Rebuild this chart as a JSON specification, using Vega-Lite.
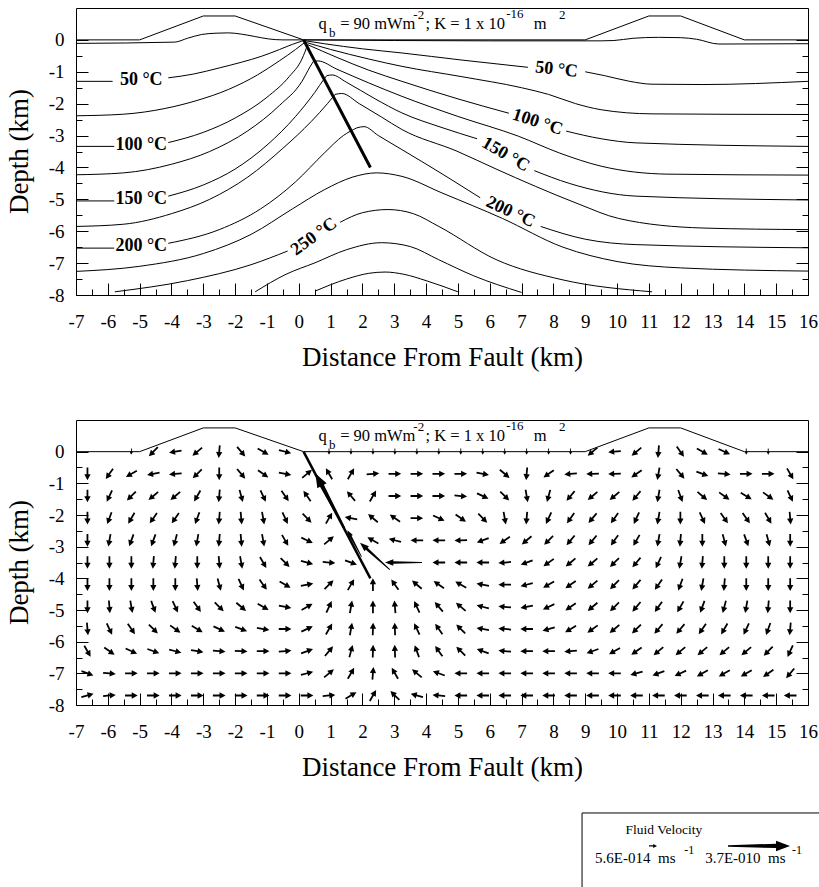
{
  "$schema": "https://vega.github.io/schema/vega-lite/v6.json",
  "background": "white",
  "padding": {"left": 4, "top": 7, "right": 0, "bottom": 0},
  "spacing": 48,
  "config": {
    "font": "Liberation Serif",
    "view": {"stroke": "black", "strokeWidth": 1},
    "style": {
      "guide-label": {"font": "Liberation Serif", "fill": "black"},
      "guide-title": {"font": "Liberation Serif", "fill": "black"}
    },
    "axis": {
      "domain": false,
      "grid": false,
      "tickColor": "black",
      "tickWidth": 1,
      "labelColor": "black",
      "labelFont": "Liberation Serif",
      "labelFontSize": 19,
      "labelFlush": false,
      "labelOverlap": false,
      "titleColor": "black",
      "titleFont": "Liberation Serif",
      "titleFontSize": 27,
      "titleFontWeight": "normal"
    }
  },
  "datasets": {
    "topo": [
      {"x": -7, "y": 0}, {"x": -5, "y": 0}, {"x": -3, "y": 0.75}, {"x": -2, "y": 0.75}, {"x": 0.15, "y": 0},
      {"x": 9, "y": 0}, {"x": 11, "y": 0.75}, {"x": 12, "y": 0.75}, {"x": 14, "y": 0}, {"x": 16, "y": 0}
    ],
    "fault": [{"x": 0.15, "y": 0}, {"x": 2.25, "y": -4}],
    "header": [
      {"text": "q", "x": 0.62, "y": 0.33, "role": "base"},
      {"text": "b", "x": 0.95, "y": 0.1, "role": "script"},
      {"text": "= 90 mWm", "x": 1.3, "y": 0.33, "role": "base"},
      {"text": "-2", "x": 3.6, "y": 0.66, "role": "script"},
      {"text": "; K = 1 x 10", "x": 3.98, "y": 0.33, "role": "base"},
      {"text": "-16", "x": 6.52, "y": 0.68, "role": "script"},
      {"text": "m", "x": 7.38, "y": 0.33, "role": "base"},
      {"text": "2", "x": 8.18, "y": 0.66, "role": "script"}
    ],
    "isoLabels": [
      {"text": "50 °C", "x": -4.95, "y": -1.26, "angle": 0},
      {"text": "100 °C", "x": -4.95, "y": -3.29, "angle": 0},
      {"text": "150 °C", "x": -4.95, "y": -4.98, "angle": 0},
      {"text": "200 °C", "x": -4.95, "y": -6.46, "angle": 0},
      {"text": "250 °C", "x": 0.48, "y": -6.17, "angle": -36},
      {"text": "50 °C", "x": 8.1, "y": -0.93, "angle": 6},
      {"text": "100 °C", "x": 7.5, "y": -2.58, "angle": 18},
      {"text": "150 °C", "x": 6.5, "y": -3.6, "angle": 30},
      {"text": "200 °C", "x": 6.65, "y": -5.4, "angle": 25}
    ],
    "isotherms": [
      {"seg": "25a", "n": 0, "x": -7, "y": -0.11}, {"seg": "25a", "n": 1, "x": -3.9, "y": -0.07}, {"seg": "25a", "n": 2, "x": -3.5, "y": 0.05}, {"seg": "25a", "n": 3, "x": -3.05, "y": 0.17}, {"seg": "25a", "n": 4, "x": -2.6, "y": 0.21}, {"seg": "25a", "n": 5, "x": -2.2, "y": 0.22}, {"seg": "25a", "n": 6, "x": -1.8, "y": 0.18}, {"seg": "25a", "n": 7, "x": -1.4, "y": 0.11}, {"seg": "25a", "n": 8, "x": -0.95, "y": 0.03}, {"seg": "25a", "n": 9, "x": -0.5, "y": 0.0}, {"seg": "25a", "n": 10, "x": 0.15, "y": 0},
      {"seg": "25b", "n": 0, "x": 0.15, "y": 0}, {"seg": "25b", "n": 1, "x": 3, "y": -0.02}, {"seg": "25b", "n": 2, "x": 6, "y": -0.03}, {"seg": "25b", "n": 3, "x": 9.5, "y": -0.03}, {"seg": "25b", "n": 4, "x": 9.9, "y": -0.02}, {"seg": "25b", "n": 5, "x": 10.5, "y": 0.05}, {"seg": "25b", "n": 6, "x": 11.3, "y": 0.08}, {"seg": "25b", "n": 7, "x": 12, "y": 0.07}, {"seg": "25b", "n": 8, "x": 12.5, "y": 0.02}, {"seg": "25b", "n": 9, "x": 13.2, "y": -0.13}, {"seg": "25b", "n": 10, "x": 16, "y": -0.12},
      {"seg": "50a", "n": 0, "x": -7, "y": -1.3}, {"seg": "50a", "n": 1, "x": -5.85, "y": -1.3},
      {"seg": "50b", "n": 0, "x": -4.1, "y": -1.19}, {"seg": "50b", "n": 1, "x": -3.3, "y": -1.07}, {"seg": "50b", "n": 2, "x": -2.5, "y": -0.88}, {"seg": "50b", "n": 3, "x": -1.8, "y": -0.7}, {"seg": "50b", "n": 4, "x": -1.16, "y": -0.51}, {"seg": "50b", "n": 5, "x": -0.6, "y": -0.3}, {"seg": "50b", "n": 6, "x": -0.2, "y": -0.14}, {"seg": "50b", "n": 7, "x": 0.15, "y": -0.02},
      {"seg": "50c", "n": 0, "x": 0.15, "y": -0.02}, {"seg": "50c", "n": 1, "x": 0.8, "y": -0.12}, {"seg": "50c", "n": 2, "x": 2, "y": -0.28}, {"seg": "50c", "n": 3, "x": 3.24, "y": -0.41}, {"seg": "50c", "n": 4, "x": 5.1, "y": -0.63}, {"seg": "50c", "n": 5, "x": 7.2, "y": -0.86},
      {"seg": "50d", "n": 0, "x": 9, "y": -1.0}, {"seg": "50d", "n": 1, "x": 9.6, "y": -1.12}, {"seg": "50d", "n": 2, "x": 10.4, "y": -1.3}, {"seg": "50d", "n": 3, "x": 11.1, "y": -1.39}, {"seg": "50d", "n": 4, "x": 12.7, "y": -1.4}, {"seg": "50d", "n": 5, "x": 16, "y": -1.3},
      {"seg": "75a", "n": 0, "x": -7, "y": -2.38}, {"seg": "75a", "n": 1, "x": -5.5, "y": -2.33}, {"seg": "75a", "n": 2, "x": -4.2, "y": -2.15}, {"seg": "75a", "n": 3, "x": -3.2, "y": -1.9}, {"seg": "75a", "n": 4, "x": -2.2, "y": -1.55}, {"seg": "75a", "n": 5, "x": -1.3, "y": -1.1}, {"seg": "75a", "n": 6, "x": -0.6, "y": -0.65}, {"seg": "75a", "n": 7, "x": -0.1, "y": -0.3}, {"seg": "75a", "n": 8, "x": 0.2, "y": -0.07},
      {"seg": "75b", "n": 0, "x": 0.2, "y": -0.07}, {"seg": "75b", "n": 1, "x": 1, "y": -0.3}, {"seg": "75b", "n": 2, "x": 2.2, "y": -0.6}, {"seg": "75b", "n": 3, "x": 3.24, "y": -0.83}, {"seg": "75b", "n": 4, "x": 5.1, "y": -1.15}, {"seg": "75b", "n": 5, "x": 7, "y": -1.5}, {"seg": "75b", "n": 6, "x": 7.85, "y": -1.71}, {"seg": "75b", "n": 7, "x": 8.7, "y": -2.0}, {"seg": "75b", "n": 8, "x": 9.5, "y": -2.19}, {"seg": "75b", "n": 9, "x": 11.1, "y": -2.32}, {"seg": "75b", "n": 10, "x": 16, "y": -2.34},
      {"seg": "100a", "n": 0, "x": -7, "y": -3.34}, {"seg": "100a", "n": 1, "x": -5.8, "y": -3.34},
      {"seg": "100b", "n": 0, "x": -4.1, "y": -3.22}, {"seg": "100b", "n": 1, "x": -3, "y": -2.9}, {"seg": "100b", "n": 2, "x": -2, "y": -2.45}, {"seg": "100b", "n": 3, "x": -1, "y": -1.8}, {"seg": "100b", "n": 4, "x": -0.3, "y": -1.15}, {"seg": "100b", "n": 5, "x": 0.1, "y": -0.6}, {"seg": "100b", "n": 6, "x": 0.28, "y": -0.15},
      {"seg": "100c", "n": 0, "x": 0.28, "y": -0.15}, {"seg": "100c", "n": 1, "x": 1.2, "y": -0.55}, {"seg": "100c", "n": 2, "x": 2.2, "y": -0.95}, {"seg": "100c", "n": 3, "x": 3.24, "y": -1.3}, {"seg": "100c", "n": 4, "x": 5, "y": -1.85}, {"seg": "100c", "n": 5, "x": 6.6, "y": -2.3},
      {"seg": "100d", "n": 0, "x": 8.4, "y": -2.86}, {"seg": "100d", "n": 1, "x": 9.5, "y": -3.1}, {"seg": "100d", "n": 2, "x": 10.6, "y": -3.23}, {"seg": "100d", "n": 3, "x": 16, "y": -3.34},
      {"seg": "125a", "n": 0, "x": -7, "y": -4.23}, {"seg": "125a", "n": 1, "x": -5.5, "y": -4.17}, {"seg": "125a", "n": 2, "x": -4, "y": -3.9}, {"seg": "125a", "n": 3, "x": -2.8, "y": -3.5}, {"seg": "125a", "n": 4, "x": -1.6, "y": -2.85}, {"seg": "125a", "n": 5, "x": -0.6, "y": -2.05}, {"seg": "125a", "n": 6, "x": 0.1, "y": -1.3}, {"seg": "125a", "n": 7, "x": 0.35, "y": -0.85}, {"seg": "125a", "n": 8, "x": 0.46, "y": -0.67},
      {"seg": "125b", "n": 0, "x": 0.46, "y": -0.67}, {"seg": "125b", "n": 1, "x": 0.6, "y": -0.66}, {"seg": "125b", "n": 2, "x": 1.2, "y": -0.92}, {"seg": "125b", "n": 3, "x": 2.2, "y": -1.35}, {"seg": "125b", "n": 4, "x": 3.24, "y": -1.77}, {"seg": "125b", "n": 5, "x": 5, "y": -2.4}, {"seg": "125b", "n": 6, "x": 6.9, "y": -3.02}, {"seg": "125b", "n": 7, "x": 8.2, "y": -3.55}, {"seg": "125b", "n": 8, "x": 9.5, "y": -3.96}, {"seg": "125b", "n": 9, "x": 11.6, "y": -4.21}, {"seg": "125b", "n": 10, "x": 16, "y": -4.24},
      {"seg": "150a", "n": 0, "x": -7, "y": -5.05}, {"seg": "150a", "n": 1, "x": -5.8, "y": -5.05},
      {"seg": "150b", "n": 0, "x": -4.1, "y": -4.9}, {"seg": "150b", "n": 1, "x": -3, "y": -4.55}, {"seg": "150b", "n": 2, "x": -2, "y": -4.05}, {"seg": "150b", "n": 3, "x": -1, "y": -3.3}, {"seg": "150b", "n": 4, "x": -0.1, "y": -2.4}, {"seg": "150b", "n": 5, "x": 0.5, "y": -1.65}, {"seg": "150b", "n": 6, "x": 0.8, "y": -1.22}, {"seg": "150b", "n": 7, "x": 0.88, "y": -1.12},
      {"seg": "150c", "n": 0, "x": 0.88, "y": -1.12}, {"seg": "150c", "n": 1, "x": 1.05, "y": -1.1}, {"seg": "150c", "n": 2, "x": 1.5, "y": -1.33}, {"seg": "150c", "n": 3, "x": 2.4, "y": -1.85}, {"seg": "150c", "n": 4, "x": 3.24, "y": -2.29}, {"seg": "150c", "n": 5, "x": 4.5, "y": -2.75}, {"seg": "150c", "n": 6, "x": 5.6, "y": -3.1},
      {"seg": "150d", "n": 0, "x": 7.4, "y": -4.1}, {"seg": "150d", "n": 1, "x": 8.5, "y": -4.5}, {"seg": "150d", "n": 2, "x": 10.6, "y": -4.9}, {"seg": "150d", "n": 3, "x": 16, "y": -5.02},
      {"seg": "175a", "n": 0, "x": -7, "y": -5.85}, {"seg": "175a", "n": 1, "x": -5.5, "y": -5.78}, {"seg": "175a", "n": 2, "x": -4, "y": -5.45}, {"seg": "175a", "n": 3, "x": -2.8, "y": -5.0}, {"seg": "175a", "n": 4, "x": -1.6, "y": -4.3}, {"seg": "175a", "n": 5, "x": -0.5, "y": -3.4}, {"seg": "175a", "n": 6, "x": 0.4, "y": -2.55}, {"seg": "175a", "n": 7, "x": 0.9, "y": -2.0}, {"seg": "175a", "n": 8, "x": 1.14, "y": -1.71},
      {"seg": "175b", "n": 0, "x": 1.14, "y": -1.71}, {"seg": "175b", "n": 1, "x": 1.35, "y": -1.68}, {"seg": "175b", "n": 2, "x": 1.9, "y": -2.0}, {"seg": "175b", "n": 3, "x": 2.6, "y": -2.42}, {"seg": "175b", "n": 4, "x": 3.24, "y": -2.81}, {"seg": "175b", "n": 5, "x": 4.97, "y": -3.49}, {"seg": "175b", "n": 6, "x": 6.2, "y": -4.05}, {"seg": "175b", "n": 7, "x": 7.43, "y": -4.59}, {"seg": "175b", "n": 8, "x": 8.8, "y": -5.15}, {"seg": "175b", "n": 9, "x": 10.05, "y": -5.6}, {"seg": "175b", "n": 10, "x": 12.7, "y": -5.9}, {"seg": "175b", "n": 11, "x": 16, "y": -5.95},
      {"seg": "200a", "n": 0, "x": -7, "y": -6.53}, {"seg": "200a", "n": 1, "x": -5.8, "y": -6.53},
      {"seg": "200b", "n": 0, "x": -4.1, "y": -6.38}, {"seg": "200b", "n": 1, "x": -2.5, "y": -5.95}, {"seg": "200b", "n": 2, "x": -1.2, "y": -5.3}, {"seg": "200b", "n": 3, "x": -0.1, "y": -4.45}, {"seg": "200b", "n": 4, "x": 0.8, "y": -3.55}, {"seg": "200b", "n": 5, "x": 1.4, "y": -3.0}, {"seg": "200b", "n": 6, "x": 1.82, "y": -2.76},
      {"seg": "200c", "n": 0, "x": 1.82, "y": -2.76}, {"seg": "200c", "n": 1, "x": 2.05, "y": -2.72}, {"seg": "200c", "n": 2, "x": 2.5, "y": -3.0}, {"seg": "200c", "n": 3, "x": 3.24, "y": -3.44}, {"seg": "200c", "n": 4, "x": 4.5, "y": -4.2}, {"seg": "200c", "n": 5, "x": 5.7, "y": -4.95},
      {"seg": "200d", "n": 0, "x": 7.6, "y": -5.85}, {"seg": "200d", "n": 1, "x": 9, "y": -6.25}, {"seg": "200d", "n": 2, "x": 10.6, "y": -6.42}, {"seg": "200d", "n": 3, "x": 16, "y": -6.52},
      {"seg": "225a", "n": 0, "x": -7, "y": -7.26}, {"seg": "225a", "n": 1, "x": -5, "y": -7.1}, {"seg": "225a", "n": 2, "x": -3, "y": -6.7}, {"seg": "225a", "n": 3, "x": -1.5, "y": -6.1}, {"seg": "225a", "n": 4, "x": -0.2, "y": -5.3}, {"seg": "225a", "n": 5, "x": 0.8, "y": -4.7}, {"seg": "225a", "n": 6, "x": 1.7, "y": -4.3}, {"seg": "225a", "n": 7, "x": 2.45, "y": -4.17}, {"seg": "225a", "n": 8, "x": 3.24, "y": -4.28}, {"seg": "225a", "n": 9, "x": 4.5, "y": -4.8}, {"seg": "225a", "n": 10, "x": 6.4, "y": -5.6}, {"seg": "225a", "n": 11, "x": 8.3, "y": -6.5}, {"seg": "225a", "n": 12, "x": 10, "y": -6.95}, {"seg": "225a", "n": 13, "x": 12, "y": -7.15}, {"seg": "225a", "n": 14, "x": 16, "y": -7.25},
      {"seg": "250a", "n": 0, "x": -5.78, "y": -7.9}, {"seg": "250a", "n": 1, "x": -3.5, "y": -7.55}, {"seg": "250a", "n": 2, "x": -1.5, "y": -7.05}, {"seg": "250a", "n": 3, "x": -0.35, "y": -6.62},
      {"seg": "250b", "n": 0, "x": 1.3, "y": -5.72}, {"seg": "250b", "n": 1, "x": 2, "y": -5.42}, {"seg": "250b", "n": 2, "x": 2.8, "y": -5.32}, {"seg": "250b", "n": 3, "x": 3.6, "y": -5.45}, {"seg": "250b", "n": 4, "x": 4.4, "y": -5.85}, {"seg": "250b", "n": 5, "x": 6.2, "y": -6.89}, {"seg": "250b", "n": 6, "x": 8.27, "y": -7.52}, {"seg": "250b", "n": 7, "x": 11.1, "y": -7.9},
      {"seg": "275a", "n": 0, "x": -1.37, "y": -7.9}, {"seg": "275a", "n": 1, "x": -0.4, "y": -7.35}, {"seg": "275a", "n": 2, "x": 0.51, "y": -6.99}, {"seg": "275a", "n": 3, "x": 1.5, "y": -6.58}, {"seg": "275a", "n": 4, "x": 2.6, "y": -6.36}, {"seg": "275a", "n": 5, "x": 3.5, "y": -6.48}, {"seg": "275a", "n": 6, "x": 4.39, "y": -6.89}, {"seg": "275a", "n": 7, "x": 5.5, "y": -7.4}, {"seg": "275a", "n": 8, "x": 7, "y": -7.92},
      {"seg": "300a", "n": 0, "x": 0.51, "y": -7.88}, {"seg": "300a", "n": 1, "x": 1.5, "y": -7.5}, {"seg": "300a", "n": 2, "x": 2.2, "y": -7.32}, {"seg": "300a", "n": 3, "x": 2.71, "y": -7.28}, {"seg": "300a", "n": 4, "x": 3.3, "y": -7.35}, {"seg": "300a", "n": 5, "x": 4, "y": -7.55}, {"seg": "300a", "n": 6, "x": 5, "y": -7.9}
    ],
    "faultArrows": [
      {"x": 0.98, "y": -1.55, "heading": 242, "v": 3.7e-10},
      {"x": 1.75, "y": -2.9, "heading": 242, "v": 3.9e-13},
      {"x": 2.39, "y": -3.3, "heading": 222, "v": 2e-12},
      {"x": 3.29, "y": -3.5, "heading": 180, "v": 1.16e-12}
    ],
    "cells": [
      {"x": -5.26, "y": 0, "heading": 95, "v": 5.3e-14}, {"x": -4.57, "y": 0, "heading": 135, "v": 7e-14}, {"x": -3.88, "y": 0, "heading": 170, "v": 7e-14}, {"x": -3.19, "y": 0, "heading": 140, "v": 7e-14}, {"x": -2.5, "y": 0, "heading": 95, "v": 7e-14}, {"x": -1.81, "y": 0, "heading": 50, "v": 7e-14}, {"x": -1.12, "y": 0, "heading": 30, "v": 7e-14}, {"x": -0.43, "y": 0, "heading": 15, "v": 7e-14},
      {"x": 0.95, "y": 0, "heading": 90, "v": 5.3e-14}, {"x": 1.64, "y": 0, "heading": 90, "v": 5.3e-14}, {"x": 2.33, "y": 0, "heading": 90, "v": 5.3e-14}, {"x": 3.02, "y": 0, "heading": 90, "v": 5.3e-14}, {"x": 3.71, "y": 0, "heading": 90, "v": 5.3e-14}, {"x": 4.4, "y": 0, "heading": 90, "v": 5.3e-14}, {"x": 5.09, "y": 0, "heading": 90, "v": 5.3e-14}, {"x": 5.78, "y": 0, "heading": 90, "v": 5.3e-14}, {"x": 6.47, "y": 0, "heading": 90, "v": 5.3e-14}, {"x": 7.16, "y": 0, "heading": 90, "v": 5.3e-14}, {"x": 7.85, "y": 0, "heading": 90, "v": 5.3e-14}, {"x": 8.54, "y": 0, "heading": 90, "v": 5.3e-14},
      {"x": 9.23, "y": 0, "heading": 140, "v": 7e-14}, {"x": 9.92, "y": 0, "heading": 175, "v": 7e-14}, {"x": 10.61, "y": 0, "heading": 140, "v": 7e-14}, {"x": 11.3, "y": 0, "heading": 95, "v": 7e-14}, {"x": 11.99, "y": 0, "heading": 55, "v": 7e-14}, {"x": 12.68, "y": 0, "heading": 30, "v": 7e-14}, {"x": 13.37, "y": 0, "heading": 25, "v": 7e-14}, {"x": 14.06, "y": 0, "heading": 90, "v": 5.3e-14}, {"x": 14.75, "y": 0, "heading": 90, "v": 5.3e-14},

      {"x": -6.64, "y": -0.7, "heading": 90, "v": 7e-14}, {"x": -5.95, "y": -0.7, "heading": 125, "v": 7e-14}, {"x": -5.26, "y": -0.7, "heading": 150, "v": 7e-14}, {"x": -4.57, "y": -0.7, "heading": 170, "v": 7e-14}, {"x": -3.88, "y": -0.7, "heading": 175, "v": 7e-14}, {"x": -3.19, "y": -0.7, "heading": 135, "v": 7e-14}, {"x": -2.5, "y": -0.7, "heading": 90, "v": 7e-14}, {"x": -1.81, "y": -0.7, "heading": 50, "v": 7e-14}, {"x": -1.12, "y": -0.7, "heading": 35, "v": 7e-14}, {"x": -0.43, "y": -0.7, "heading": 10, "v": 7e-14}, {"x": 0.26, "y": -0.7, "heading": 320, "v": 7e-14}, {"x": 0.95, "y": -0.7, "heading": 240, "v": 7e-14}, {"x": 1.64, "y": -0.7, "heading": 300, "v": 7e-14}, {"x": 2.33, "y": -0.7, "heading": 355, "v": 7e-14}, {"x": 3.02, "y": -0.7, "heading": 0, "v": 7e-14}, {"x": 3.71, "y": -0.7, "heading": 0, "v": 7e-14}, {"x": 4.4, "y": -0.7, "heading": 0, "v": 7e-14}, {"x": 5.09, "y": -0.7, "heading": 0, "v": 7e-14}, {"x": 5.78, "y": -0.7, "heading": 10, "v": 7e-14}, {"x": 6.47, "y": -0.7, "heading": 40, "v": 7e-14}, {"x": 7.16, "y": -0.7, "heading": 95, "v": 7e-14}, {"x": 7.85, "y": -0.7, "heading": 145, "v": 7e-14}, {"x": 8.54, "y": -0.7, "heading": 175, "v": 7e-14}, {"x": 9.23, "y": -0.7, "heading": 178, "v": 7e-14}, {"x": 9.92, "y": -0.7, "heading": 178, "v": 7e-14}, {"x": 10.61, "y": -0.7, "heading": 145, "v": 7e-14}, {"x": 11.3, "y": -0.7, "heading": 100, "v": 7e-14}, {"x": 11.99, "y": -0.7, "heading": 50, "v": 7e-14}, {"x": 12.68, "y": -0.7, "heading": 20, "v": 7e-14}, {"x": 13.37, "y": -0.7, "heading": 5, "v": 7e-14}, {"x": 14.06, "y": -0.7, "heading": 0, "v": 7e-14}, {"x": 14.75, "y": -0.7, "heading": 0, "v": 7e-14}, {"x": 15.44, "y": -0.7, "heading": 60, "v": 7e-14},

      {"x": -6.64, "y": -1.4, "heading": 90, "v": 7e-14}, {"x": -5.95, "y": -1.4, "heading": 115, "v": 7e-14}, {"x": -5.26, "y": -1.4, "heading": 135, "v": 7e-14}, {"x": -4.57, "y": -1.4, "heading": 140, "v": 7e-14}, {"x": -3.88, "y": -1.4, "heading": 140, "v": 7e-14}, {"x": -3.19, "y": -1.4, "heading": 120, "v": 7e-14}, {"x": -2.5, "y": -1.4, "heading": 95, "v": 7e-14}, {"x": -1.81, "y": -1.4, "heading": 75, "v": 7e-14}, {"x": -1.12, "y": -1.4, "heading": 65, "v": 7e-14}, {"x": -0.43, "y": -1.4, "heading": 55, "v": 7e-14}, {"x": 0.26, "y": -1.4, "heading": 235, "v": 7e-14}, {"x": 1.64, "y": -1.4, "heading": 230, "v": 7e-14}, {"x": 2.33, "y": -1.4, "heading": 300, "v": 7e-14}, {"x": 3.02, "y": -1.4, "heading": 0, "v": 7e-14}, {"x": 3.71, "y": -1.4, "heading": 0, "v": 7e-14}, {"x": 4.4, "y": -1.4, "heading": 0, "v": 7e-14}, {"x": 5.09, "y": -1.4, "heading": 5, "v": 7e-14}, {"x": 5.78, "y": -1.4, "heading": 25, "v": 7e-14}, {"x": 6.47, "y": -1.4, "heading": 45, "v": 7e-14}, {"x": 7.16, "y": -1.4, "heading": 80, "v": 7e-14}, {"x": 7.85, "y": -1.4, "heading": 105, "v": 7e-14}, {"x": 8.54, "y": -1.4, "heading": 130, "v": 7e-14}, {"x": 9.23, "y": -1.4, "heading": 140, "v": 7e-14}, {"x": 9.92, "y": -1.4, "heading": 140, "v": 7e-14}, {"x": 10.61, "y": -1.4, "heading": 130, "v": 7e-14}, {"x": 11.3, "y": -1.4, "heading": 100, "v": 7e-14}, {"x": 11.99, "y": -1.4, "heading": 70, "v": 7e-14}, {"x": 12.68, "y": -1.4, "heading": 40, "v": 7e-14}, {"x": 13.37, "y": -1.4, "heading": 35, "v": 7e-14}, {"x": 14.06, "y": -1.4, "heading": 30, "v": 7e-14}, {"x": 14.75, "y": -1.4, "heading": 35, "v": 7e-14}, {"x": 15.44, "y": -1.4, "heading": 65, "v": 7e-14},

      {"x": -6.64, "y": -2.1, "heading": 90, "v": 7e-14}, {"x": -5.95, "y": -2.1, "heading": 110, "v": 7e-14}, {"x": -5.26, "y": -2.1, "heading": 120, "v": 7e-14}, {"x": -4.57, "y": -2.1, "heading": 125, "v": 7e-14}, {"x": -3.88, "y": -2.1, "heading": 125, "v": 7e-14}, {"x": -3.19, "y": -2.1, "heading": 110, "v": 7e-14}, {"x": -2.5, "y": -2.1, "heading": 95, "v": 7e-14}, {"x": -1.81, "y": -2.1, "heading": 85, "v": 7e-14}, {"x": -1.12, "y": -2.1, "heading": 80, "v": 7e-14}, {"x": -0.43, "y": -2.1, "heading": 65, "v": 7e-14}, {"x": 0.26, "y": -2.1, "heading": 45, "v": 7e-14}, {"x": 0.95, "y": -2.1, "heading": 300, "v": 7e-14}, {"x": 1.64, "y": -2.1, "heading": 190, "v": 7e-14}, {"x": 2.33, "y": -2.1, "heading": 220, "v": 7e-14}, {"x": 3.02, "y": -2.1, "heading": 215, "v": 7e-14}, {"x": 3.71, "y": -2.1, "heading": 0, "v": 7e-14}, {"x": 4.4, "y": -2.1, "heading": 25, "v": 7e-14}, {"x": 5.09, "y": -2.1, "heading": 35, "v": 7e-14}, {"x": 5.78, "y": -2.1, "heading": 45, "v": 7e-14}, {"x": 6.47, "y": -2.1, "heading": 80, "v": 7e-14}, {"x": 7.16, "y": -2.1, "heading": 95, "v": 7e-14}, {"x": 7.85, "y": -2.1, "heading": 115, "v": 7e-14}, {"x": 8.54, "y": -2.1, "heading": 125, "v": 7e-14}, {"x": 9.23, "y": -2.1, "heading": 130, "v": 7e-14}, {"x": 9.92, "y": -2.1, "heading": 125, "v": 7e-14}, {"x": 10.61, "y": -2.1, "heading": 115, "v": 7e-14}, {"x": 11.3, "y": -2.1, "heading": 100, "v": 7e-14}, {"x": 11.99, "y": -2.1, "heading": 90, "v": 7e-14}, {"x": 12.68, "y": -2.1, "heading": 65, "v": 7e-14}, {"x": 13.37, "y": -2.1, "heading": 55, "v": 7e-14}, {"x": 14.06, "y": -2.1, "heading": 55, "v": 7e-14}, {"x": 14.75, "y": -2.1, "heading": 60, "v": 7e-14}, {"x": 15.44, "y": -2.1, "heading": 85, "v": 7e-14},

      {"x": -6.64, "y": -2.8, "heading": 90, "v": 7e-14}, {"x": -5.95, "y": -2.8, "heading": 100, "v": 7e-14}, {"x": -5.26, "y": -2.8, "heading": 110, "v": 7e-14}, {"x": -4.57, "y": -2.8, "heading": 110, "v": 7e-14}, {"x": -3.88, "y": -2.8, "heading": 105, "v": 7e-14}, {"x": -3.19, "y": -2.8, "heading": 100, "v": 7e-14}, {"x": -2.5, "y": -2.8, "heading": 95, "v": 7e-14}, {"x": -1.81, "y": -2.8, "heading": 85, "v": 7e-14}, {"x": -1.12, "y": -2.8, "heading": 80, "v": 7e-14}, {"x": -0.43, "y": -2.8, "heading": 60, "v": 7e-14}, {"x": 0.26, "y": -2.8, "heading": 25, "v": 7e-14}, {"x": 0.95, "y": -2.8, "heading": 320, "v": 7e-14}, {"x": 2.33, "y": -2.8, "heading": 210, "v": 7e-14}, {"x": 3.02, "y": -2.8, "heading": 195, "v": 7e-14}, {"x": 3.71, "y": -2.8, "heading": 180, "v": 7e-14}, {"x": 4.4, "y": -2.8, "heading": 180, "v": 7e-14}, {"x": 5.09, "y": -2.8, "heading": 178, "v": 7e-14}, {"x": 5.78, "y": -2.8, "heading": 160, "v": 7e-14}, {"x": 6.47, "y": -2.8, "heading": 145, "v": 7e-14}, {"x": 7.16, "y": -2.8, "heading": 140, "v": 7e-14}, {"x": 7.85, "y": -2.8, "heading": 135, "v": 7e-14}, {"x": 8.54, "y": -2.8, "heading": 130, "v": 7e-14}, {"x": 9.23, "y": -2.8, "heading": 130, "v": 7e-14}, {"x": 9.92, "y": -2.8, "heading": 125, "v": 7e-14}, {"x": 10.61, "y": -2.8, "heading": 120, "v": 7e-14}, {"x": 11.3, "y": -2.8, "heading": 100, "v": 7e-14}, {"x": 11.99, "y": -2.8, "heading": 95, "v": 7e-14}, {"x": 12.68, "y": -2.8, "heading": 90, "v": 7e-14}, {"x": 13.37, "y": -2.8, "heading": 75, "v": 7e-14}, {"x": 14.06, "y": -2.8, "heading": 70, "v": 7e-14}, {"x": 14.75, "y": -2.8, "heading": 75, "v": 7e-14}, {"x": 15.44, "y": -2.8, "heading": 90, "v": 7e-14},

      {"x": -6.64, "y": -3.5, "heading": 90, "v": 7e-14}, {"x": -5.95, "y": -3.5, "heading": 90, "v": 7e-14}, {"x": -5.26, "y": -3.5, "heading": 90, "v": 7e-14}, {"x": -4.57, "y": -3.5, "heading": 95, "v": 7e-14}, {"x": -3.88, "y": -3.5, "heading": 95, "v": 7e-14}, {"x": -3.19, "y": -3.5, "heading": 90, "v": 7e-14}, {"x": -2.5, "y": -3.5, "heading": 85, "v": 7e-14}, {"x": -1.81, "y": -3.5, "heading": 80, "v": 7e-14}, {"x": -1.12, "y": -3.5, "heading": 60, "v": 7e-14}, {"x": -0.43, "y": -3.5, "heading": 45, "v": 7e-14}, {"x": 0.26, "y": -3.5, "heading": 15, "v": 7e-14}, {"x": 0.95, "y": -3.5, "heading": 5, "v": 7e-14}, {"x": 1.64, "y": -3.5, "heading": 20, "v": 7e-14}, {"x": 4.4, "y": -3.5, "heading": 180, "v": 7e-14}, {"x": 5.09, "y": -3.5, "heading": 180, "v": 7e-14}, {"x": 5.78, "y": -3.5, "heading": 180, "v": 7e-14}, {"x": 6.47, "y": -3.5, "heading": 175, "v": 7e-14}, {"x": 7.16, "y": -3.5, "heading": 160, "v": 7e-14}, {"x": 7.85, "y": -3.5, "heading": 145, "v": 7e-14}, {"x": 8.54, "y": -3.5, "heading": 140, "v": 7e-14}, {"x": 9.23, "y": -3.5, "heading": 140, "v": 7e-14}, {"x": 9.92, "y": -3.5, "heading": 135, "v": 7e-14}, {"x": 10.61, "y": -3.5, "heading": 130, "v": 7e-14}, {"x": 11.3, "y": -3.5, "heading": 115, "v": 7e-14}, {"x": 11.99, "y": -3.5, "heading": 100, "v": 7e-14}, {"x": 12.68, "y": -3.5, "heading": 95, "v": 7e-14}, {"x": 13.37, "y": -3.5, "heading": 90, "v": 7e-14}, {"x": 14.06, "y": -3.5, "heading": 90, "v": 7e-14}, {"x": 14.75, "y": -3.5, "heading": 90, "v": 7e-14}, {"x": 15.44, "y": -3.5, "heading": 90, "v": 7e-14},

      {"x": -6.64, "y": -4.2, "heading": 90, "v": 7e-14}, {"x": -5.95, "y": -4.2, "heading": 90, "v": 7e-14}, {"x": -5.26, "y": -4.2, "heading": 90, "v": 7e-14}, {"x": -4.57, "y": -4.2, "heading": 90, "v": 7e-14}, {"x": -3.88, "y": -4.2, "heading": 90, "v": 7e-14}, {"x": -3.19, "y": -4.2, "heading": 85, "v": 7e-14}, {"x": -2.5, "y": -4.2, "heading": 75, "v": 7e-14}, {"x": -1.81, "y": -4.2, "heading": 65, "v": 7e-14}, {"x": -1.12, "y": -4.2, "heading": 55, "v": 7e-14}, {"x": -0.43, "y": -4.2, "heading": 30, "v": 7e-14}, {"x": 0.26, "y": -4.2, "heading": 350, "v": 7e-14}, {"x": 0.95, "y": -4.2, "heading": 315, "v": 7e-14}, {"x": 1.64, "y": -4.2, "heading": 300, "v": 7e-14}, {"x": 2.33, "y": -4.2, "heading": 270, "v": 7e-14}, {"x": 3.02, "y": -4.2, "heading": 235, "v": 7e-14}, {"x": 3.71, "y": -4.2, "heading": 220, "v": 7e-14}, {"x": 4.4, "y": -4.2, "heading": 215, "v": 7e-14}, {"x": 5.09, "y": -4.2, "heading": 210, "v": 7e-14}, {"x": 5.78, "y": -4.2, "heading": 190, "v": 7e-14}, {"x": 6.47, "y": -4.2, "heading": 180, "v": 7e-14}, {"x": 7.16, "y": -4.2, "heading": 165, "v": 7e-14}, {"x": 7.85, "y": -4.2, "heading": 150, "v": 7e-14}, {"x": 8.54, "y": -4.2, "heading": 145, "v": 7e-14}, {"x": 9.23, "y": -4.2, "heading": 140, "v": 7e-14}, {"x": 9.92, "y": -4.2, "heading": 135, "v": 7e-14}, {"x": 10.61, "y": -4.2, "heading": 130, "v": 7e-14}, {"x": 11.3, "y": -4.2, "heading": 125, "v": 7e-14}, {"x": 11.99, "y": -4.2, "heading": 110, "v": 7e-14}, {"x": 12.68, "y": -4.2, "heading": 100, "v": 7e-14}, {"x": 13.37, "y": -4.2, "heading": 95, "v": 7e-14}, {"x": 14.06, "y": -4.2, "heading": 90, "v": 7e-14}, {"x": 14.75, "y": -4.2, "heading": 90, "v": 7e-14}, {"x": 15.44, "y": -4.2, "heading": 90, "v": 7e-14},

      {"x": -6.64, "y": -4.9, "heading": 90, "v": 7e-14}, {"x": -5.95, "y": -4.9, "heading": 85, "v": 7e-14}, {"x": -5.26, "y": -4.9, "heading": 80, "v": 7e-14}, {"x": -4.57, "y": -4.9, "heading": 70, "v": 7e-14}, {"x": -3.88, "y": -4.9, "heading": 65, "v": 7e-14}, {"x": -3.19, "y": -4.9, "heading": 55, "v": 7e-14}, {"x": -2.5, "y": -4.9, "heading": 45, "v": 7e-14}, {"x": -1.81, "y": -4.9, "heading": 40, "v": 7e-14}, {"x": -1.12, "y": -4.9, "heading": 30, "v": 7e-14}, {"x": -0.43, "y": -4.9, "heading": 10, "v": 7e-14}, {"x": 0.26, "y": -4.9, "heading": 330, "v": 7e-14}, {"x": 0.95, "y": -4.9, "heading": 295, "v": 7e-14}, {"x": 1.64, "y": -4.9, "heading": 280, "v": 7e-14}, {"x": 2.33, "y": -4.9, "heading": 270, "v": 7e-14}, {"x": 3.02, "y": -4.9, "heading": 265, "v": 7e-14}, {"x": 3.71, "y": -4.9, "heading": 245, "v": 7e-14}, {"x": 4.4, "y": -4.9, "heading": 230, "v": 7e-14}, {"x": 5.09, "y": -4.9, "heading": 220, "v": 7e-14}, {"x": 5.78, "y": -4.9, "heading": 195, "v": 7e-14}, {"x": 6.47, "y": -4.9, "heading": 185, "v": 7e-14}, {"x": 7.16, "y": -4.9, "heading": 170, "v": 7e-14}, {"x": 7.85, "y": -4.9, "heading": 155, "v": 7e-14}, {"x": 8.54, "y": -4.9, "heading": 145, "v": 7e-14}, {"x": 9.23, "y": -4.9, "heading": 140, "v": 7e-14}, {"x": 9.92, "y": -4.9, "heading": 135, "v": 7e-14}, {"x": 10.61, "y": -4.9, "heading": 130, "v": 7e-14}, {"x": 11.3, "y": -4.9, "heading": 125, "v": 7e-14}, {"x": 11.99, "y": -4.9, "heading": 120, "v": 7e-14}, {"x": 12.68, "y": -4.9, "heading": 110, "v": 7e-14}, {"x": 13.37, "y": -4.9, "heading": 105, "v": 7e-14}, {"x": 14.06, "y": -4.9, "heading": 100, "v": 7e-14}, {"x": 14.75, "y": -4.9, "heading": 95, "v": 7e-14}, {"x": 15.44, "y": -4.9, "heading": 90, "v": 7e-14},

      {"x": -6.64, "y": -5.6, "heading": 85, "v": 7e-14}, {"x": -5.95, "y": -5.6, "heading": 65, "v": 7e-14}, {"x": -5.26, "y": -5.6, "heading": 55, "v": 7e-14}, {"x": -4.57, "y": -5.6, "heading": 45, "v": 7e-14}, {"x": -3.88, "y": -5.6, "heading": 35, "v": 7e-14}, {"x": -3.19, "y": -5.6, "heading": 30, "v": 7e-14}, {"x": -2.5, "y": -5.6, "heading": 25, "v": 7e-14}, {"x": -1.81, "y": -5.6, "heading": 20, "v": 7e-14}, {"x": -1.12, "y": -5.6, "heading": 10, "v": 7e-14}, {"x": -0.43, "y": -5.6, "heading": 0, "v": 7e-14}, {"x": 0.26, "y": -5.6, "heading": 335, "v": 7e-14}, {"x": 0.95, "y": -5.6, "heading": 300, "v": 7e-14}, {"x": 1.64, "y": -5.6, "heading": 280, "v": 7e-14}, {"x": 2.33, "y": -5.6, "heading": 272, "v": 7e-14}, {"x": 3.02, "y": -5.6, "heading": 268, "v": 7e-14}, {"x": 3.71, "y": -5.6, "heading": 245, "v": 7e-14}, {"x": 4.4, "y": -5.6, "heading": 235, "v": 7e-14}, {"x": 5.09, "y": -5.6, "heading": 225, "v": 7e-14}, {"x": 5.78, "y": -5.6, "heading": 190, "v": 7e-14}, {"x": 6.47, "y": -5.6, "heading": 185, "v": 7e-14}, {"x": 7.16, "y": -5.6, "heading": 180, "v": 7e-14}, {"x": 7.85, "y": -5.6, "heading": 165, "v": 7e-14}, {"x": 8.54, "y": -5.6, "heading": 150, "v": 7e-14}, {"x": 9.23, "y": -5.6, "heading": 145, "v": 7e-14}, {"x": 9.92, "y": -5.6, "heading": 140, "v": 7e-14}, {"x": 10.61, "y": -5.6, "heading": 135, "v": 7e-14}, {"x": 11.3, "y": -5.6, "heading": 130, "v": 7e-14}, {"x": 11.99, "y": -5.6, "heading": 130, "v": 7e-14}, {"x": 12.68, "y": -5.6, "heading": 125, "v": 7e-14}, {"x": 13.37, "y": -5.6, "heading": 120, "v": 7e-14}, {"x": 14.06, "y": -5.6, "heading": 115, "v": 7e-14}, {"x": 14.75, "y": -5.6, "heading": 110, "v": 7e-14}, {"x": 15.44, "y": -5.6, "heading": 95, "v": 7e-14},

      {"x": -6.64, "y": -6.3, "heading": 60, "v": 7e-14}, {"x": -5.95, "y": -6.3, "heading": 35, "v": 7e-14}, {"x": -5.26, "y": -6.3, "heading": 25, "v": 7e-14}, {"x": -4.57, "y": -6.3, "heading": 20, "v": 7e-14}, {"x": -3.88, "y": -6.3, "heading": 15, "v": 7e-14}, {"x": -3.19, "y": -6.3, "heading": 10, "v": 7e-14}, {"x": -2.5, "y": -6.3, "heading": 5, "v": 7e-14}, {"x": -1.81, "y": -6.3, "heading": 3, "v": 7e-14}, {"x": -1.12, "y": -6.3, "heading": 0, "v": 7e-14}, {"x": -0.43, "y": -6.3, "heading": 355, "v": 7e-14}, {"x": 0.26, "y": -6.3, "heading": 340, "v": 7e-14}, {"x": 0.95, "y": -6.3, "heading": 310, "v": 7e-14}, {"x": 1.64, "y": -6.3, "heading": 285, "v": 7e-14}, {"x": 2.33, "y": -6.3, "heading": 272, "v": 7e-14}, {"x": 3.02, "y": -6.3, "heading": 268, "v": 7e-14}, {"x": 3.71, "y": -6.3, "heading": 250, "v": 7e-14}, {"x": 4.4, "y": -6.3, "heading": 235, "v": 7e-14}, {"x": 5.09, "y": -6.3, "heading": 225, "v": 7e-14}, {"x": 5.78, "y": -6.3, "heading": 200, "v": 7e-14}, {"x": 6.47, "y": -6.3, "heading": 185, "v": 7e-14}, {"x": 7.16, "y": -6.3, "heading": 180, "v": 7e-14}, {"x": 7.85, "y": -6.3, "heading": 180, "v": 7e-14}, {"x": 8.54, "y": -6.3, "heading": 175, "v": 7e-14}, {"x": 9.23, "y": -6.3, "heading": 160, "v": 7e-14}, {"x": 9.92, "y": -6.3, "heading": 150, "v": 7e-14}, {"x": 10.61, "y": -6.3, "heading": 145, "v": 7e-14}, {"x": 11.3, "y": -6.3, "heading": 140, "v": 7e-14}, {"x": 11.99, "y": -6.3, "heading": 140, "v": 7e-14}, {"x": 12.68, "y": -6.3, "heading": 140, "v": 7e-14}, {"x": 13.37, "y": -6.3, "heading": 140, "v": 7e-14}, {"x": 14.06, "y": -6.3, "heading": 140, "v": 7e-14}, {"x": 14.75, "y": -6.3, "heading": 135, "v": 7e-14}, {"x": 15.44, "y": -6.3, "heading": 115, "v": 7e-14},

      {"x": -6.64, "y": -7, "heading": 20, "v": 7e-14}, {"x": -5.95, "y": -7, "heading": 5, "v": 7e-14}, {"x": -5.26, "y": -7, "heading": 0, "v": 7e-14}, {"x": -4.57, "y": -7, "heading": 0, "v": 7e-14}, {"x": -3.88, "y": -7, "heading": 0, "v": 7e-14}, {"x": -3.19, "y": -7, "heading": 0, "v": 7e-14}, {"x": -2.5, "y": -7, "heading": 0, "v": 7e-14}, {"x": -1.81, "y": -7, "heading": 0, "v": 7e-14}, {"x": -1.12, "y": -7, "heading": 0, "v": 7e-14}, {"x": -0.43, "y": -7, "heading": 0, "v": 7e-14}, {"x": 0.26, "y": -7, "heading": 345, "v": 7e-14}, {"x": 0.95, "y": -7, "heading": 320, "v": 7e-14}, {"x": 1.64, "y": -7, "heading": 300, "v": 7e-14}, {"x": 2.33, "y": -7, "heading": 275, "v": 7e-14}, {"x": 3.02, "y": -7, "heading": 240, "v": 7e-14}, {"x": 3.71, "y": -7, "heading": 220, "v": 7e-14}, {"x": 4.4, "y": -7, "heading": 200, "v": 7e-14}, {"x": 5.09, "y": -7, "heading": 180, "v": 7e-14}, {"x": 5.78, "y": -7, "heading": 180, "v": 7e-14}, {"x": 6.47, "y": -7, "heading": 180, "v": 7e-14}, {"x": 7.16, "y": -7, "heading": 180, "v": 7e-14}, {"x": 7.85, "y": -7, "heading": 180, "v": 7e-14}, {"x": 8.54, "y": -7, "heading": 180, "v": 7e-14}, {"x": 9.23, "y": -7, "heading": 180, "v": 7e-14}, {"x": 9.92, "y": -7, "heading": 180, "v": 7e-14}, {"x": 10.61, "y": -7, "heading": 165, "v": 7e-14}, {"x": 11.3, "y": -7, "heading": 160, "v": 7e-14}, {"x": 11.99, "y": -7, "heading": 155, "v": 7e-14}, {"x": 12.68, "y": -7, "heading": 150, "v": 7e-14}, {"x": 13.37, "y": -7, "heading": 150, "v": 7e-14}, {"x": 14.06, "y": -7, "heading": 150, "v": 7e-14}, {"x": 14.75, "y": -7, "heading": 145, "v": 7e-14}, {"x": 15.44, "y": -7, "heading": 130, "v": 7e-14},

      {"x": -6.64, "y": -7.7, "heading": 345, "v": 7e-14}, {"x": -5.95, "y": -7.7, "heading": 355, "v": 7e-14}, {"x": -5.26, "y": -7.7, "heading": 0, "v": 7e-14}, {"x": -4.57, "y": -7.7, "heading": 0, "v": 7e-14}, {"x": -3.88, "y": -7.7, "heading": 0, "v": 7e-14}, {"x": -3.19, "y": -7.7, "heading": 0, "v": 7e-14}, {"x": -2.5, "y": -7.7, "heading": 0, "v": 7e-14}, {"x": -1.81, "y": -7.7, "heading": 0, "v": 7e-14}, {"x": -1.12, "y": -7.7, "heading": 0, "v": 7e-14}, {"x": -0.43, "y": -7.7, "heading": 0, "v": 7e-14}, {"x": 0.26, "y": -7.7, "heading": 0, "v": 7e-14}, {"x": 0.95, "y": -7.7, "heading": 355, "v": 7e-14}, {"x": 1.64, "y": -7.7, "heading": 330, "v": 7e-14}, {"x": 2.33, "y": -7.7, "heading": 300, "v": 7e-14}, {"x": 3.02, "y": -7.7, "heading": 225, "v": 7e-14}, {"x": 3.71, "y": -7.7, "heading": 195, "v": 7e-14}, {"x": 4.4, "y": -7.7, "heading": 185, "v": 7e-14}, {"x": 5.09, "y": -7.7, "heading": 180, "v": 7e-14}, {"x": 5.78, "y": -7.7, "heading": 180, "v": 7e-14}, {"x": 6.47, "y": -7.7, "heading": 180, "v": 7e-14}, {"x": 7.16, "y": -7.7, "heading": 180, "v": 7e-14}, {"x": 7.85, "y": -7.7, "heading": 180, "v": 7e-14}, {"x": 8.54, "y": -7.7, "heading": 180, "v": 7e-14}, {"x": 9.23, "y": -7.7, "heading": 180, "v": 7e-14}, {"x": 9.92, "y": -7.7, "heading": 180, "v": 7e-14}, {"x": 10.61, "y": -7.7, "heading": 180, "v": 7e-14}, {"x": 11.3, "y": -7.7, "heading": 180, "v": 7e-14}, {"x": 11.99, "y": -7.7, "heading": 180, "v": 7e-14}, {"x": 12.68, "y": -7.7, "heading": 180, "v": 7e-14}, {"x": 13.37, "y": -7.7, "heading": 180, "v": 7e-14}, {"x": 14.06, "y": -7.7, "heading": 180, "v": 7e-14}, {"x": 14.75, "y": -7.7, "heading": 180, "v": 7e-14}, {"x": 15.44, "y": -7.7, "heading": 180, "v": 7e-14}
    ],
    "legendText": [
      {"text": "5.6E-014\u00a0\u00a0ms", "x": 9.31, "y": -13.0, "role": "base"},
      {"text": "-1", "x": 12.11, "y": -12.7, "role": "script"},
      {"text": "3.7E-010\u00a0\u00a0ms", "x": 12.77, "y": -13.0, "role": "base"},
      {"text": "-1", "x": 15.5, "y": -12.7, "role": "script"}
    ]
  },
  "vconcat": [
    {
      "width": 732,
      "height": 287,
      "resolve": {"axis": {"x": "independent", "y": "independent"}},
      "layer": [
        {
          "data": {"name": "isotherms"},
          "mark": {"type": "line", "color": "black", "strokeWidth": 1, "interpolate": "monotone"},
          "encoding": {
            "x": {"field": "x", "type": "quantitative", "scale": {"domain": [-7, 16], "nice": false, "zero": false},
              "axis": {"orient": "bottom", "values": [-7,-6.5,-6,-5.5,-5,-4.5,-4,-3.5,-3,-2.5,-2,-1.5,-1,-0.5,0,0.5,1,1.5,2,2.5,3,3.5,4,4.5,5,5.5,6,6.5,7,7.5,8,8.5,9,9.5,10,10.5,11,11.5,12,12.5,13,13.5,14,14.5,15,15.5,16],
                "tickSize": {"condition": {"test": "datum.value % 1 === 0", "value": -12}, "value": -6},
                "labelExpr": "datum.value % 1 === 0 ? '' + datum.value : ''",
                "labelFont": "Liberation Serif", "titleFont": "Liberation Serif",
                "labelPadding": 29, "title": "Distance From Fault (km)", "titlePadding": 7}},
            "y": {"field": "y", "type": "quantitative", "scale": {"domain": [-8, 1], "nice": false, "zero": false},
              "axis": {"orient": "left", "values": [-8,-7.5,-7,-6.5,-6,-5.5,-5,-4.5,-4,-3.5,-3,-2.5,-2,-1.5,-1,-0.5,0],
                "tickSize": {"condition": {"test": "datum.value % 1 === 0", "value": -12}, "value": -6},
                "labelExpr": "datum.value % 1 === 0 ? '' + datum.value : ''",
                "labelFont": "Liberation Serif", "titleFont": "Liberation Serif",
                "labelPadding": 24, "title": "Depth (km)",
                "titleX": -57, "titleY": 143, "titleAngle": -90, "titleAlign": "center", "titleBaseline": "middle"}},
            "detail": {"field": "seg", "type": "nominal"},
            "order": {"field": "n", "type": "quantitative"}
          }
        },
        {
          "data": {"name": "topo"},
          "mark": {"type": "line", "color": "black", "strokeWidth": 1},
          "encoding": {
            "x": {"field": "x", "type": "quantitative", "axis": null},
            "y": {"field": "y", "type": "quantitative",
              "axis": {"orient": "right", "values": [-8,-7.5,-7,-6.5,-6,-5.5,-5,-4.5,-4,-3.5,-3,-2.5,-2,-1.5,-1,-0.5,0],
                "tickSize": {"condition": {"test": "datum.value % 1 === 0", "value": -12}, "value": -6},
                "labels": false, "title": null}}
          }
        },
        {
          "data": {"name": "fault"},
          "mark": {"type": "line", "color": "black", "strokeWidth": 3},
          "encoding": {
            "x": {"field": "x", "type": "quantitative", "axis": null},
            "y": {"field": "y", "type": "quantitative", "axis": null}
          }
        },
        {
          "data": {"name": "isoLabels"},
          "mark": {"type": "text", "font": "Liberation Serif", "fontSize": 18, "fontWeight": "bold", "color": "black", "align": "center", "baseline": "middle"},
          "encoding": {
            "x": {"field": "x", "type": "quantitative", "axis": null},
            "y": {"field": "y", "type": "quantitative", "axis": null},
            "text": {"field": "text"},
            "angle": {"field": "angle", "type": "quantitative", "scale": null}
          }
        },
        {
          "data": {"name": "header"},
          "transform": [{"filter": "datum.role === 'base'"}],
          "mark": {"type": "text", "font": "Liberation Serif", "fontSize": 16.5, "color": "black", "align": "left", "baseline": "alphabetic"},
          "encoding": {
            "x": {"field": "x", "type": "quantitative", "axis": null},
            "y": {"field": "y", "type": "quantitative", "axis": null},
            "text": {"field": "text"}
          }
        },
        {
          "data": {"name": "header"},
          "transform": [{"filter": "datum.role === 'script'"}],
          "mark": {"type": "text", "font": "Liberation Serif", "fontSize": 13, "color": "black", "align": "left", "baseline": "alphabetic"},
          "encoding": {
            "x": {"field": "x", "type": "quantitative", "axis": null},
            "y": {"field": "y", "type": "quantitative", "axis": null},
            "text": {"field": "text"}
          }
        }
      ]
    },
    {
      "width": 732,
      "height": 285,
      "resolve": {"axis": {"x": "independent", "y": "independent"}},
      "layer": [
        {
          "data": {"name": "cells"},
          "mark": {"type": "point", "shape": "M-1,-0.14L0.05,-0.14L0.05,-0.5L1,0L0.05,0.5L0.05,0.14L-1,0.14Z", "filled": true, "color": "black", "opacity": 1, "strokeWidth": 0},
          "encoding": {
            "x": {"field": "x", "type": "quantitative", "scale": {"domain": [-7, 16], "nice": false, "zero": false},
              "axis": {"orient": "bottom", "values": [-7,-6.5,-6,-5.5,-5,-4.5,-4,-3.5,-3,-2.5,-2,-1.5,-1,-0.5,0,0.5,1,1.5,2,2.5,3,3.5,4,4.5,5,5.5,6,6.5,7,7.5,8,8.5,9,9.5,10,10.5,11,11.5,12,12.5,13,13.5,14,14.5,15,15.5,16],
                "tickSize": {"condition": {"test": "datum.value % 1 === 0", "value": -12}, "value": -6},
                "labelExpr": "datum.value % 1 === 0 ? '' + datum.value : ''",
                "labelFont": "Liberation Serif", "titleFont": "Liberation Serif",
                "labelPadding": 29, "title": "Distance From Fault (km)", "titlePadding": 7}},
            "y": {"field": "y", "type": "quantitative", "scale": {"domain": [-8, 1], "nice": false, "zero": false},
              "axis": {"orient": "left", "values": [-8,-7.5,-7,-6.5,-6,-5.5,-5,-4.5,-4,-3.5,-3,-2.5,-2,-1.5,-1,-0.5,0],
                "tickSize": {"condition": {"test": "datum.value % 1 === 0", "value": -12}, "value": -6},
                "labelExpr": "datum.value % 1 === 0 ? '' + datum.value : ''",
                "labelFont": "Liberation Serif", "titleFont": "Liberation Serif",
                "labelPadding": 24, "title": "Depth (km)",
                "titleX": -57, "titleY": 142, "titleAngle": -90, "titleAlign": "center", "titleBaseline": "middle"}},
            "angle": {"field": "heading", "type": "quantitative", "scale": null},
            "size": {"field": "v", "type": "quantitative", "scale": {"type": "log", "domain": [5.6e-14, 3.7e-10], "range": [64, 3844], "clamp": false}, "legend": null}
          }
        },
        {
          "data": {"name": "topo"},
          "mark": {"type": "line", "color": "black", "strokeWidth": 1},
          "encoding": {
            "x": {"field": "x", "type": "quantitative", "axis": null},
            "y": {"field": "y", "type": "quantitative",
              "axis": {"orient": "right", "values": [-8,-7.5,-7,-6.5,-6,-5.5,-5,-4.5,-4,-3.5,-3,-2.5,-2,-1.5,-1,-0.5,0],
                "tickSize": {"condition": {"test": "datum.value % 1 === 0", "value": -12}, "value": -6},
                "labels": false, "title": null}}
          }
        },
        {
          "data": {"name": "fault"},
          "mark": {"type": "line", "color": "black", "strokeWidth": 2.5},
          "encoding": {
            "x": {"field": "x", "type": "quantitative", "axis": null},
            "y": {"field": "y", "type": "quantitative", "axis": null}
          }
        },
        {
          "data": {"name": "faultArrows"},
          "mark": {"type": "point", "shape": "M-1,-0.025L0.55,-0.07L0.55,-0.17L1,0L0.55,0.17L0.55,0.07L-1,0.025Z", "filled": true, "color": "black", "opacity": 1, "strokeWidth": 0},
          "encoding": {
            "x": {"field": "x", "type": "quantitative", "axis": null},
            "y": {"field": "y", "type": "quantitative", "axis": null},
            "angle": {"field": "heading", "type": "quantitative", "scale": null},
            "size": {"field": "v", "type": "quantitative", "legend": null}
          }
        },
        {
          "data": {"name": "header"},
          "transform": [{"filter": "datum.role === 'base'"}],
          "mark": {"type": "text", "font": "Liberation Serif", "fontSize": 16.5, "color": "black", "align": "left", "baseline": "alphabetic"},
          "encoding": {
            "x": {"field": "x", "type": "quantitative", "axis": null},
            "y": {"field": "y", "type": "quantitative", "axis": null},
            "text": {"field": "text"}
          }
        },
        {
          "data": {"name": "header"},
          "transform": [{"filter": "datum.role === 'script'"}],
          "mark": {"type": "text", "font": "Liberation Serif", "fontSize": 13, "color": "black", "align": "left", "baseline": "alphabetic"},
          "encoding": {
            "x": {"field": "x", "type": "quantitative", "axis": null},
            "y": {"field": "y", "type": "quantitative", "axis": null},
            "text": {"field": "text"}
          }
        },
        {
          "data": {"values": [{}]},
          "mark": {"type": "rect", "fill": "white", "stroke": "black", "strokeWidth": 1},
          "encoding": {
            "x": {"datum": 8.9, "type": "quantitative", "axis": null},
            "x2": {"datum": 16.37},
            "y": {"datum": -11.41, "type": "quantitative", "axis": null},
            "y2": {"datum": -14.5}
          }
        },
        {
          "data": {"values": [{"text": "Fluid Velocity"}]},
          "mark": {"type": "text", "font": "Liberation Serif", "fontSize": 13.5, "color": "black", "align": "center", "baseline": "middle"},
          "encoding": {
            "x": {"datum": 11.47, "type": "quantitative", "axis": null},
            "y": {"datum": -11.95, "type": "quantitative", "axis": null},
            "text": {"field": "text"}
          }
        },
        {
          "data": {"name": "legendText"},
          "transform": [{"filter": "datum.role === 'base'"}],
          "mark": {"type": "text", "font": "Liberation Serif", "fontSize": 15, "color": "black", "align": "left", "baseline": "alphabetic"},
          "encoding": {
            "x": {"field": "x", "type": "quantitative", "axis": null},
            "y": {"field": "y", "type": "quantitative", "axis": null},
            "text": {"field": "text"}
          }
        },
        {
          "data": {"name": "legendText"},
          "transform": [{"filter": "datum.role === 'script'"}],
          "mark": {"type": "text", "font": "Liberation Serif", "fontSize": 12, "color": "black", "align": "left", "baseline": "alphabetic"},
          "encoding": {
            "x": {"field": "x", "type": "quantitative", "axis": null},
            "y": {"field": "y", "type": "quantitative", "axis": null},
            "text": {"field": "text"}
          }
        },
        {
          "data": {"values": [{"v": 5.6e-14, "heading": 0}]},
          "mark": {"type": "point", "shape": "M-1,-0.14L0.05,-0.14L0.05,-0.5L1,0L0.05,0.5L0.05,0.14L-1,0.14Z", "filled": true, "color": "black", "opacity": 1, "strokeWidth": 0},
          "encoding": {
            "x": {"datum": 11.13, "type": "quantitative", "axis": null},
            "y": {"datum": -12.45, "type": "quantitative", "axis": null},
            "angle": {"field": "heading", "type": "quantitative", "scale": null},
            "size": {"field": "v", "type": "quantitative", "legend": null}
          }
        },
        {
          "data": {"values": [{"v": 3.7e-10, "heading": 0}]},
          "mark": {"type": "point", "shape": "M-1,-0.025L0.55,-0.07L0.55,-0.17L1,0L0.55,0.17L0.55,0.07L-1,0.025Z", "filled": true, "color": "black", "opacity": 1, "strokeWidth": 0},
          "encoding": {
            "x": {"datum": 14.46, "type": "quantitative", "axis": null},
            "y": {"datum": -12.45, "type": "quantitative", "axis": null},
            "angle": {"field": "heading", "type": "quantitative", "scale": null},
            "size": {"field": "v", "type": "quantitative", "legend": null}
          }
        }
      ]
    }
  ]
}
